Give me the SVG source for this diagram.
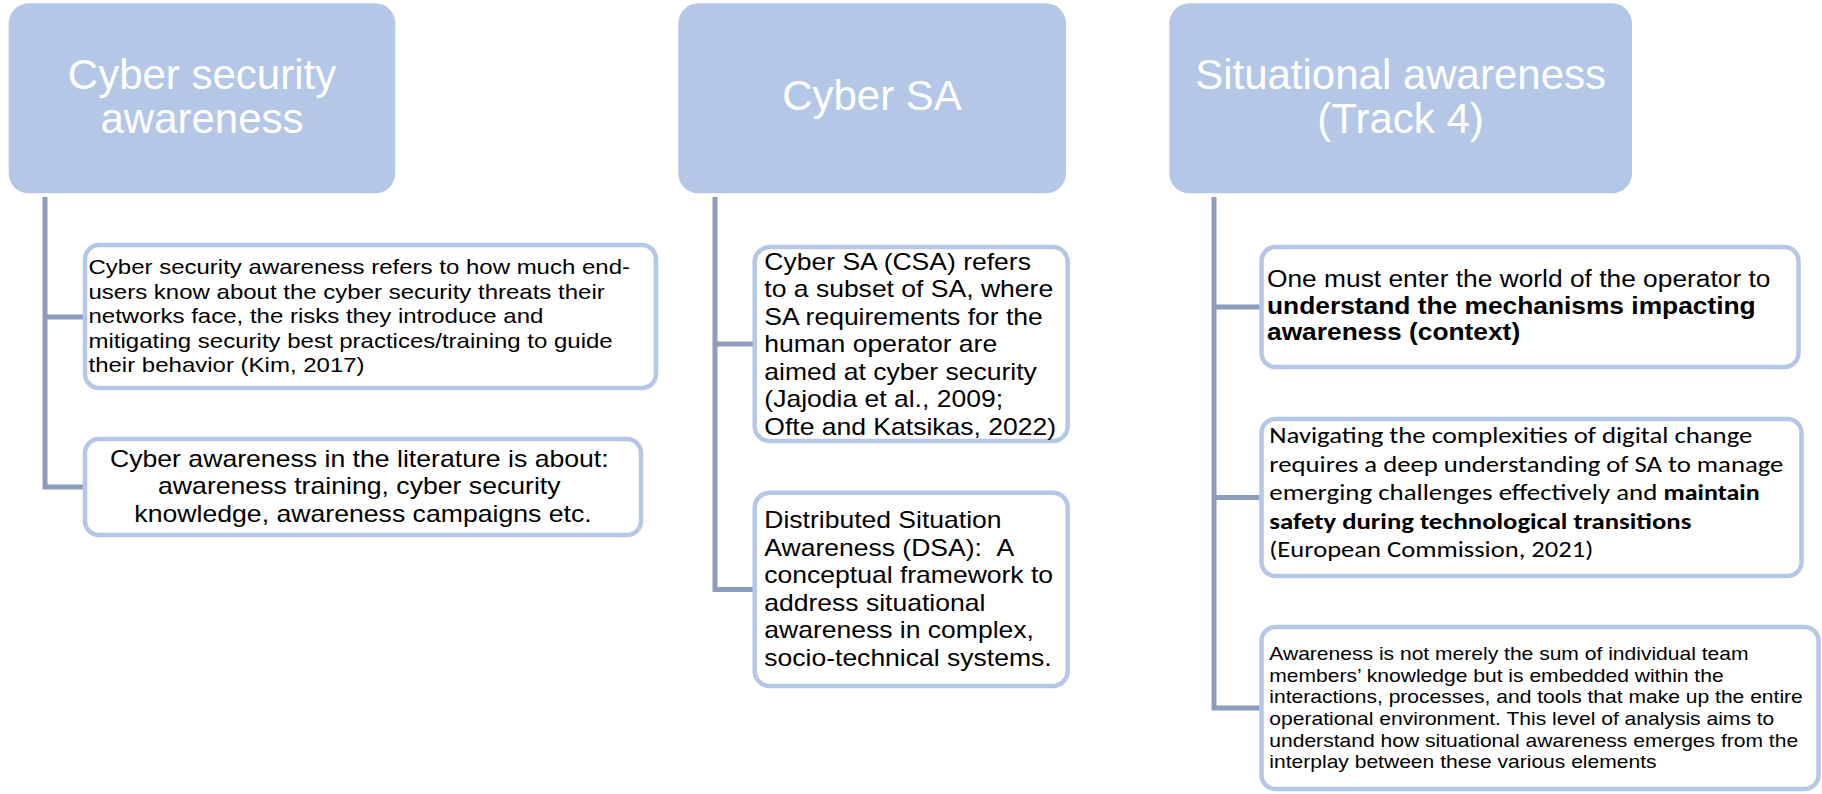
<svg xmlns="http://www.w3.org/2000/svg" width="1822" height="794" viewBox="0 0 1822 794">
  <style>
    .head { fill: #b4c7e7; }
    .hdr { font-family: "Liberation Sans", Arial, sans-serif; font-size: 42px; fill: #ffffff; text-anchor: middle; }
    .card { fill: #ffffff; stroke: #b4c7e7; stroke-width: 4.5; }
    .txt { font-family: "Liberation Sans", Arial, sans-serif; fill: #000000; }
    .cal { font-family: Carlito, Lato, "Open Sans", sans-serif; font-size: 23px; fill: #000000; }
    .b { font-weight: bold; }
    .link { fill: none; stroke: #8e9dbd; stroke-width: 5; stroke-linejoin: miter; }
  </style>

  <!-- connectors: one spine per column with a branch to every card -->
  <g id="connectors">
    <path class="link" d="M45 197 V487 H84 M45 317 H84"/>
    <path class="link" d="M715 197 V589.5 H754 M715 344 H754"/>
    <path class="link" d="M1214 197 V708 H1260 M1214 307 H1260 M1214 497.5 H1260"/>
  </g>

  <!-- column 1 -->
  <g id="head-cyber-security-awareness">
    <rect class="head" x="8.7" y="3.3" width="386.6" height="190" rx="20"/>
    <text class="hdr" x="202" y="89.3">Cyber security</text>
    <text class="hdr" x="202" y="133.3">awareness</text>
  </g>
  <g id="card-definition">
    <rect class="card" x="85" y="245" width="571" height="143" rx="14"/>
    <g transform="matrix(1.143 0 0 1 88.5 0)">
      <text class="txt" font-size="21">
        <tspan x="0" y="274.5">Cyber security awareness refers to how much end-</tspan>
        <tspan x="0" y="299">users know about the cyber security threats their</tspan>
        <tspan x="0" y="323.5">networks face, the risks they introduce and</tspan>
        <tspan x="0" y="348">mitigating security best practices/training to guide</tspan>
        <tspan x="0" y="372.5">their behavior (Kim, 2017)</tspan>
      </text>
    </g>
  </g>
  <g id="card-literature">
    <rect class="card" x="85" y="439" width="556" height="96" rx="14"/>
    <g transform="matrix(1.158 0 0 1 363 0)">
      <text class="txt" font-size="23" text-anchor="middle">
        <tspan x="0" y="467">Cyber awareness in the literature is about:</tspan>
        <tspan x="0" y="494.5">awareness training, cyber security</tspan>
        <tspan x="0" y="522">knowledge, awareness campaigns etc.</tspan>
      </text>
    </g>
  </g>

  <!-- column 2 -->
  <g id="head-cyber-sa">
    <rect class="head" x="678.3" y="3.3" width="387.7" height="190" rx="20"/>
    <text class="hdr" x="872" y="110">Cyber SA</text>
  </g>
  <g id="card-csa">
    <rect class="card" x="754.7" y="247" width="313" height="194" rx="15"/>
    <g transform="matrix(1.105 0 0 1 764.3 0)">
      <text class="txt" font-size="24">
        <tspan x="0" y="270">Cyber SA (CSA) refers</tspan>
        <tspan x="0" y="297.5">to a subset of SA, where</tspan>
        <tspan x="0" y="325">SA requirements for the</tspan>
        <tspan x="0" y="352.5">human operator are</tspan>
        <tspan x="0" y="380">aimed at cyber security</tspan>
        <tspan x="0" y="407.5">(Jajodia et al., 2009;</tspan>
        <tspan x="0" y="435">Ofte and Katsikas, 2022)</tspan>
      </text>
    </g>
  </g>
  <g id="card-dsa">
    <rect class="card" x="754.7" y="492.7" width="313" height="193.3" rx="15"/>
    <g transform="matrix(1.105 0 0 1 764.3 0)">
      <text class="txt" font-size="24">
        <tspan x="0" y="528.5">Distributed Situation</tspan>
        <tspan x="0" y="556">Awareness (DSA): &#160;A</tspan>
        <tspan x="0" y="583.5">conceptual framework to</tspan>
        <tspan x="0" y="611">address situational</tspan>
        <tspan x="0" y="638.5">awareness in complex,</tspan>
        <tspan x="0" y="666">socio-technical systems.</tspan>
      </text>
    </g>
  </g>

  <!-- column 3 -->
  <g id="head-situational-awareness">
    <rect class="head" x="1169.3" y="3.3" width="462.7" height="190" rx="20"/>
    <text class="hdr" x="1400.6" y="89.3">Situational awareness</text>
    <text class="hdr" x="1400.6" y="133.3">(Track 4)</text>
  </g>
  <g id="card-operator">
    <rect class="card" x="1261.5" y="247" width="537" height="120" rx="14"/>
    <g transform="matrix(1.145 0 0 1 1267 0)">
      <text class="txt" font-size="23">
        <tspan x="0" y="287">One must enter the world of the operator to</tspan>
        <tspan class="b" x="0" y="314">understand the mechanisms impacting</tspan>
        <tspan class="b" x="0" y="340.5">awareness (context)</tspan>
      </text>
    </g>
  </g>
  <g id="card-digital-change">
    <rect class="card" x="1261.5" y="419" width="540" height="157" rx="14"/>
    <text class="cal" x="1269.3" y="443" textLength="483" lengthAdjust="spacingAndGlyphs">Navigating the complexities of digital change</text>
    <text class="cal" x="1269.3" y="471.5" textLength="514" lengthAdjust="spacingAndGlyphs">requires a deep understanding of SA to manage</text>
    <text class="cal" x="1269.3" y="500" textLength="388" lengthAdjust="spacingAndGlyphs">emerging challenges effectively and</text>
    <text class="cal b" x="1663.6" y="500" textLength="96" lengthAdjust="spacingAndGlyphs">maintain</text>
    <text class="cal b" x="1269.3" y="528.5" textLength="422" lengthAdjust="spacingAndGlyphs">safety during technological transitions</text>
    <text class="cal" x="1269.3" y="557" textLength="324" lengthAdjust="spacingAndGlyphs">(European Commission, 2021)</text>
  </g>
  <g id="card-distributed">
    <rect class="card" x="1261.5" y="627" width="557" height="162" rx="14"/>
    <g transform="matrix(1.17 0 0 1 1269.3 0)">
      <text class="txt" font-size="18">
        <tspan x="0" y="660">Awareness is not merely the sum of individual team</tspan>
        <tspan x="0" y="681.7">members’ knowledge but is embedded within the</tspan>
        <tspan x="0" y="703.3">interactions, processes, and tools that make up the entire</tspan>
        <tspan x="0" y="725">operational environment. This level of analysis aims to</tspan>
        <tspan x="0" y="746.7">understand how situational awareness emerges from the</tspan>
        <tspan x="0" y="768.3">interplay between these various elements</tspan>
      </text>
    </g>
  </g>
</svg>
